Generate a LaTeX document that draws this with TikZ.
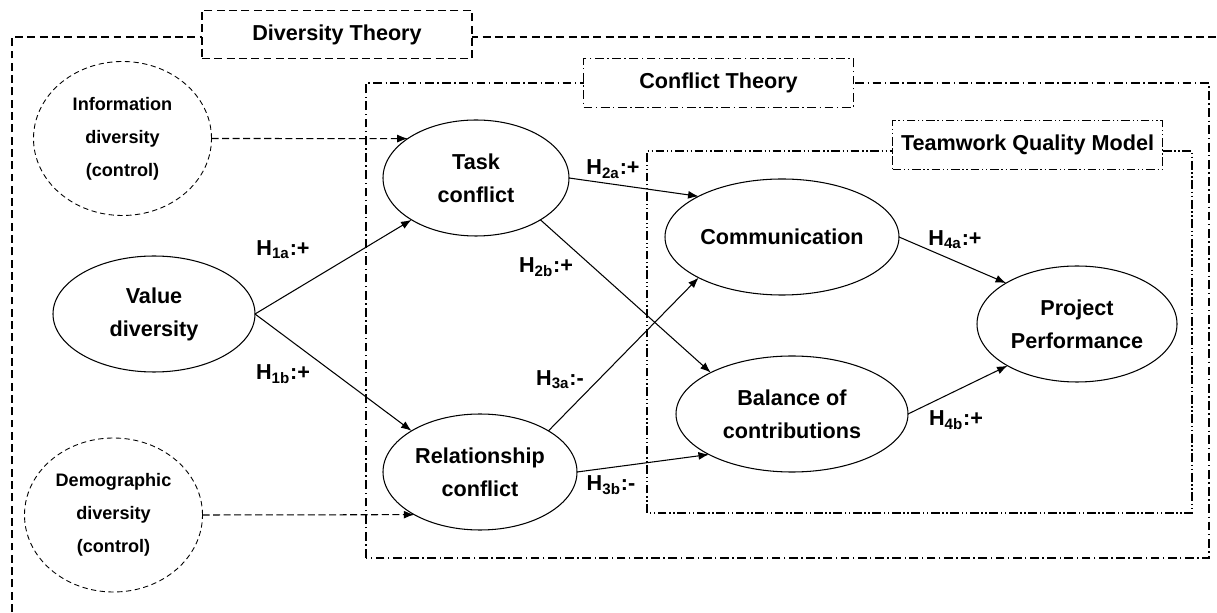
\documentclass[tikz,border=0pt]{standalone}
\usepackage{fontspec}
\setmainfont{Liberation Sans}
\usepackage{tikz}
\usetikzlibrary{positioning}
\usetikzlibrary{shapes.geometric}
\usetikzlibrary{arrows.meta}

\begin{document}
\begin{tikzpicture}[
        construct/.style = {
            draw,
            ellipse,
            line width = 0.6pt,
            minimum width = #1,
            minimum height = 2.32cm,
            inner sep = 0pt,
            outer sep = 0pt,
            align = center,
            font = \fontsize{12.3}{18.8}\selectfont\bfseries
        },
        construct/.default = 4cm,
        ctrlnode/.style = {
            draw,
            ellipse,
            dash pattern = on 3pt off 2pt,
            line width = 0.5pt,
            minimum width = 3.56cm,
            minimum height = 3.08cm,
            inner sep = 0pt,
            outer sep = 0pt,
            align = center,
            font = \fontsize{10.3}{18.8}\selectfont\bfseries
        },
        theory/.style = {
            draw,
            fill = white,
            line width = 0.6pt,
            minimum width = #1,
            minimum height = 0.97cm,
            inner sep = 0pt,
            font = \fontsize{12.3}{15}\selectfont\bfseries
        },
        theory/.default = 5.4cm,
        hyp/.style = {inner sep = 0pt, font = \fontsize{12.3}{15}\selectfont\bfseries},
        link/.style = {->, line width = 0.6pt},
        divframe/.style = {dash pattern = on 4.5pt off 2.5pt, line width = 0.6pt},
        conflictframe/.style = {dash pattern = on 5pt off 2pt on 0.8pt off 2pt, line width = 0.6pt},
        teamframe/.style = {dash pattern = on 5pt off 1.5pt on 0.8pt off 1.5pt on 0.8pt off 1.5pt, line width = 0.6pt},
        >={Latex[length=6pt, width=4.5pt]}
        ]
%
        \useasboundingbox (0,0) rectangle (24.34,12.24);
%
        \draw[divframe] (0.24,0) -- (0.24,11.5) -- (24.34,11.5);
        \draw[conflictframe] (7.32,1.08) rectangle (24.18,10.58);
        \draw[teamframe] (12.94,1.98) rectangle (23.84,9.22);
%
        \node[theory, divframe] (divtheory) at (6.74,11.55) {Diversity Theory};
        \node[theory, conflictframe] (conftheory) at (14.37,10.58) {Conflict Theory};
        \node[theory, teamframe] (tqmodel) at (20.55,9.34) {Teamwork Quality Model};
%
%
        \node[ctrlnode] (info) at (2.45,9.47) {Information\\diversity\\(control)};
        \node[ctrlnode] (demo) at (2.27,1.94) {Demographic\\diversity\\(control)};
%
        \node[construct=4.04cm] (value) at (3.08,5.96) {Value\\diversity};
        \node[construct=3.72cm] (task) at (9.52,8.68) {Task\\conflict};
        \node[construct=3.88cm] (rel) at (9.60,2.80) {Relationship\\conflict};
%
        \node[construct=4.68cm] (comm) at (15.64,7.50) {Communication};
        \node[construct=4.64cm] (bal) at (15.84,3.96) {Balance of\\contributions};
        \node[construct=4.0cm] (proj) at (21.54,5.76) {Project\\Performance};
%
%
        \draw[link, dash pattern = on 4pt off 2pt] (info.east) -- (task.150);
        \draw[link, dash pattern = on 4pt off 2pt] (demo.east) -- (rel.213);
%
        \draw[link] (value.east) -- (task.213);
        \draw[link] (value.east) -- (rel.149);
        \draw[link] (task.east) -- (comm.154);
        \draw[link] (task.-33) -- (bal.153);
        \draw[link] (rel.31) -- (comm.206);
        \draw[link] (rel.east) -- (bal.206);
        \draw[link] (comm.east) -- (proj.150);
        \draw[link] (bal.east) -- (proj.211);
%
        \node[hyp] (h1a) at (5.66,7.24) {H\textsubscript{1a}:+};
        \node[hyp] (h1b) at (5.66,4.76) {H\textsubscript{1b}:+};
        \node[hyp] (h2a) at (12.26,8.86) {H\textsubscript{2a}:+};
        \node[hyp] (h2b) at (10.92,6.90) {H\textsubscript{2b}:+};
        \node[hyp] (h3a) at (11.20,4.64) {H\textsubscript{3a}:-};
        \node[hyp] (h3b) at (12.22,2.54) {H\textsubscript{3b}:-};
        \node[hyp] (h4a) at (19.10,7.44) {H\textsubscript{4a}:+};
        \node[hyp] (h4b) at (19.12,3.84) {H\textsubscript{4b}:+};
%
    \end{tikzpicture}
\end{document}
